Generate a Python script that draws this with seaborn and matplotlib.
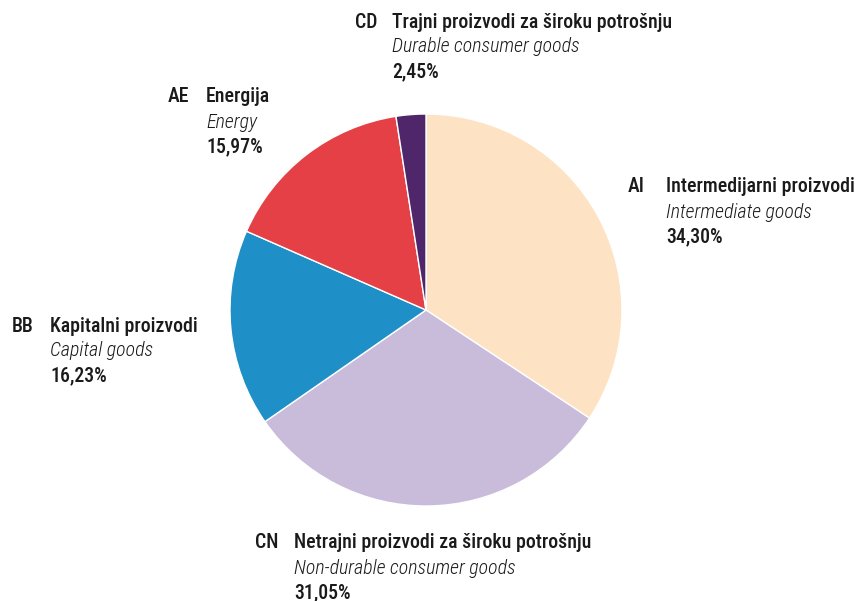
import matplotlib
matplotlib.use("Agg")
import matplotlib.pyplot as plt
from matplotlib import font_manager
import seaborn as sns

codes = ["AI", "CN", "BB", "AE", "CD"]
names_hr = ["Intermedijarni proizvodi", "Netrajni proizvodi za široku potrošnju",
            "Kapitalni proizvodi", "Energija", "Trajni proizvodi za široku potrošnju"]
names_en = ["Intermediate goods", "Non-durable consumer goods", "Capital goods",
            "Energy", "Durable consumer goods"]
shares = [34.30, 31.05, 16.23, 15.97, 2.45]
colors = ["#FDE3C4", "#C9BBDA", "#1F8FC7", "#E54045", "#4F2669"]

sns.set_theme(style="white")
avail = {f.name for f in font_manager.fontManager.ttflist}
fam = "DejaVu Sans"
for cand in ["Roboto Condensed", "Liberation Sans Narrow", "DejaVu Sans Condensed", "Liberation Sans"]:
    if cand in avail:
        fam = cand
        break
plt.rcParams["font.family"] = [fam, "DejaVu Sans"]

W, H = 864, 601
fig = plt.figure(figsize=(W / 100, H / 100), dpi=100)
cx, cy, r = 426, 310, 196
ax = fig.add_axes([(cx - r) / W, (H - cy - r) / H, 2 * r / W, 2 * r / H])
ax.pie(shares, colors=colors, startangle=90, counterclock=False, radius=1,
       wedgeprops=dict(edgecolor="white", linewidth=1))
ax.set_xlim(-1, 1)
ax.set_ylim(-1, 1)
ax.set_aspect("equal")
ax.axis("off")

label_pos = {"CD": (355, 392, 22), "AE": (168, 206, 97), "AI": (628, 666, 187),
             "BB": (12, 50, 326), "CN": (255, 294, 543)}
fs = 14.3
dy = 25
for code, hr, en, s in zip(codes, names_hr, names_en, shares):
    xc, xn, y0 = label_pos[code]
    def T(x, y, txt, **kw):
        fig.text(x / W, 1 - y / H, txt, va="center", ha="left", fontsize=fs,
                 color="#1a1a1a", **kw)
    T(xc, y0, code, weight="medium")
    T(xn, y0, hr, weight="medium")
    T(xn, y0 + dy, en, style="italic", weight="light")
    T(xn, y0 + 2 * dy, f"{s:.2f}".replace(".", ",") + "%", weight="medium")

fig.savefig("out.png", dpi=100, facecolor="white")
